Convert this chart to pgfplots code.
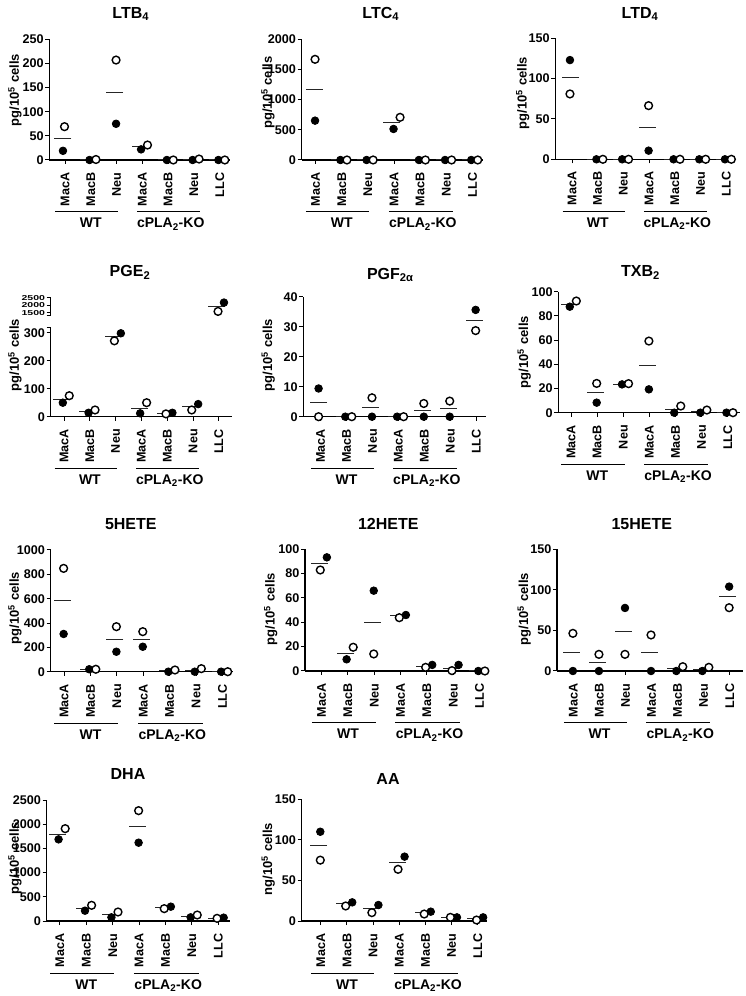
\documentclass[border=0pt]{standalone}
\usepackage{fontspec}
\setmainfont{Liberation Sans}
\usepackage{pgfplots}
\pgfplotsset{compat=1.18}
\newcommand{\tickfont}{\bfseries\fontsize{12.6}{12.6}\selectfont}
\newcommand{\titlefont}{\bfseries\fontsize{16}{16}\selectfont}
\newcommand{\grpfont}{\bfseries\fontsize{14}{14}\selectfont}
\newcommand{\labfont}{\bfseries\fontsize{13}{13}\selectfont}
\pgfplotsset{
 panel/.style={
  scale only axis, axis lines*=left, clip=false, anchor=south west,
  axis line style={line width=1.1pt},
  xtick={0,...,6}, xticklabels={MacA,MacB,Neu,MacA,MacB,Neu,LLC},
  xticklabel style={rotate=90, anchor=east, font=\tickfont},
  xticklabel shift=5pt,
  yticklabel style={font=\tickfont, inner xsep=1.5pt},
  tick style={black, line width=1pt},
  tick align=outside, major tick length=4pt,
  /pgf/number format/assume math mode=true,
  /pgf/number format/1000 sep={},
  scaled y ticks=false, ymin=0,
 },
 filled/.style={only marks, mark=*, mark size=3.8pt, mark options={fill=black, draw=black, line width=0.8pt}},
 open/.style={only marks, mark=*, mark size=3.9pt, mark options={fill=white, draw=black, line width=1.4pt}},
 mean/.style={only marks, mark=-, mark size=8.5pt, mark options={line width=1pt, draw=black!85}},
}
\newcommand{\groups}{%
 \draw[line width=1pt] ([yshift=-52pt]axis cs:-0.37,0) -- ([yshift=-52pt]axis cs:2.05,0);
 \draw[line width=1pt] ([yshift=-52pt]axis cs:2.8,0) -- ([yshift=-52pt]axis cs:5.25,0);
 \node[anchor=base, font=\grpfont] at ([yshift=-68pt]axis cs:1.0,0) {WT};
 \node[anchor=base, font=\grpfont] at ([yshift=-68pt]axis cs:4.1,0) {cPLA\textsubscript{2}-KO};
}
\begin{document}
\begin{tikzpicture}
\path[use as bounding box] (0pt,0pt) rectangle (746pt,996pt);

% ---------- Row 1 ----------
% LTB4
\begin{axis}[panel, at={(49.3pt,836pt)}, width=180.7pt, height=120.7pt,
  xmin=-0.61, xmax=6.4, ymax=250, ytick={0,50,...,250}]
\addplot[mean] coordinates {(-0.08,45) (0.92,0.5) (1.92,140) (2.92,27) (3.92,0) (4.92,1) (5.92,0)};
\addplot[filled] coordinates {(-0.08,19) (0.95,0) (1.98,75) (2.95,22) (3.95,0) (4.95,0) (5.95,0)};
\addplot[open] coordinates {(-0.02,69) (1.2,1) (1.98,207) (3.2,31) (4.2,0) (5.2,2) (6.2,0)};
\groups
\end{axis}
\node[anchor=base, font=\titlefont] at (130.8pt,977.7pt) {LTB\textsubscript{4}};
\node[rotate=90, font=\labfont] at (15pt,906pt) {pg/10\textsuperscript{5} cells};

% LTC4
\begin{axis}[panel, at={(301.7pt,836pt)}, width=181.3pt, height=120.7pt,
  xmin=-0.53, xmax=6.4, ymax=2000, ytick={0,500,...,2000}]
\addplot[mean] coordinates {(-0.05,1171) (0.92,0) (1.92,0) (2.92,619) (3.92,0) (4.92,0) (5.92,0)};
\addplot[filled] coordinates {(-0.02,652) (0.95,0) (1.95,0) (2.98,514) (3.95,0) (4.95,0) (5.95,0)};
\addplot[open] coordinates {(-0.02,1668) (1.2,0) (2.2,0) (3.23,707) (4.2,0) (5.2,0) (6.2,0)};
\groups
\end{axis}
\node[anchor=base, font=\titlefont] at (380.8pt,977.7pt) {LTC\textsubscript{4}};
\node[rotate=90, font=\labfont] at (268pt,903.5pt) {pg/10\textsuperscript{5} cells};

% LTD4
\begin{axis}[panel, at={(555.3pt,836.7pt)}, width=180.7pt, height=121pt,
  xmin=-0.65, xmax=6.38, ymax=150, ytick={0,50,100,150}]
\addplot[mean] coordinates {(-0.05,101.7) (0.92,0) (1.92,0) (2.92,39.7) (3.92,0) (4.92,0) (5.92,0)};
\addplot[filled] coordinates {(-0.08,123) (0.95,0) (1.95,0) (2.98,10.7) (3.95,0) (4.95,0) (5.95,0)};
\addplot[open] coordinates {(-0.08,81) (1.2,0) (2.2,0) (2.98,66.5) (4.2,0) (5.2,0) (6.2,0)};
\groups
\end{axis}
\node[anchor=base, font=\titlefont] at (640pt,977.7pt) {LTD\textsubscript{4}};
\node[rotate=90, font=\labfont] at (522.7pt,903pt) {pg/10\textsuperscript{5} cells};

% ---------- Row 2 ----------
% PGE2 lower
\begin{axis}[panel, at={(50.7pt,579.3pt)}, width=181pt, height=89pt,
  xmin=-0.52, xmax=6.5, ymax=318, ytick={0,100,200,300},
  extra y ticks={318}, extra y tick labels={}]
\addplot[mean] coordinates {(-0.1,63) (0.92,20) (1.92,286) (2.92,30) (3.92,11) (4.92,36)};
\addplot[filled] coordinates {(-0.05,50) (0.95,14) (2.2,298) (2.95,12) (4.2,14) (5.2,45)};
\addplot[open] coordinates {(0.2,75) (1.2,24) (1.95,271) (3.2,50) (3.95,10) (4.95,24)};
\groups
\end{axis}
% PGE2 upper
\begin{axis}[panel, at={(50.7pt,680pt)}, width=181pt, height=18.3pt,
  axis x line=none, axis y line*=left,
  xmin=-0.52, xmax=6.5, ymin=1300, ymax=2500, ytick={1500,2000,2500},
  extra y ticks={1300}, extra y tick labels={},
  yticklabel style={font=\bfseries\fontsize{10.5}{10.5}\selectfont, yscale=0.68, inner ysep=0pt}]
\addplot[mean] coordinates {(5.92,1890)};
\addplot[filled] coordinates {(6.2,2180)};
\addplot[open] coordinates {(5.97,1600)};
\end{axis}
\node[anchor=base, font=\titlefont] at (130pt,719.3pt) {PGE\textsubscript{2}};
\node[rotate=90, font=\labfont] at (15pt,641pt) {pg/10\textsuperscript{5} cells};

% PGF2a
\begin{axis}[panel, at={(303.3pt,579.3pt)}, width=182.7pt, height=120pt,
  xmin=-0.67, xmax=6.38, ymax=40, ytick={0,10,...,40}]
\addplot[mean] coordinates {(-0.08,4.7) (0.92,0) (1.92,3.1) (2.92,0) (3.92,2.2) (4.92,2.6) (5.92,32)};
\addplot[filled] coordinates {(-0.08,9.4) (0.95,0) (1.98,0) (2.95,0) (3.98,0) (4.98,0) (5.98,35.6)};
\addplot[open] coordinates {(-0.08,0) (1.2,0) (1.98,6.3) (3.2,0) (3.98,4.4) (4.98,5.2) (5.98,28.7)};
\groups
\end{axis}
\node[anchor=base, font=\titlefont] at (390.3pt,716.7pt) {PGF\textsubscript{2α}};
\node[rotate=90, font=\labfont] at (268.3pt,641pt) {pg/10\textsuperscript{5} cells};

% TXB2
\begin{axis}[panel, at={(558.3pt,583.3pt)}, width=181.2pt, height=121pt,
  xmin=-0.49, xmax=6.45, ymax=100, ytick={0,20,...,100}]
\addplot[mean] coordinates {(-0.08,89.8) (0.92,16.5) (1.92,23.7) (2.92,39.1) (3.92,2.8) (4.92,0.8) (5.92,0)};
\addplot[filled] coordinates {(-0.05,87.6) (0.98,8.3) (1.95,23.4) (2.98,19.3) (3.95,0) (4.95,0) (5.95,0)};
\addplot[open] coordinates {(0.2,92.3) (0.98,24.2) (2.2,24) (2.98,59.2) (4.2,5.5) (5.2,2.2) (6.2,0)};
\groups
\end{axis}
\node[anchor=base, font=\titlefont] at (640.5pt,719.3pt) {TXB\textsubscript{2}};
\node[rotate=90, font=\labfont] at (524.3pt,644pt) {pg/10\textsuperscript{5} cells};

% ---------- Row 3 ----------
% 5HETE
\begin{axis}[panel, at={(50.7pt,324.3pt)}, width=182.3pt, height=121.7pt,
  xmin=-0.51, xmax=6.4, ymax=1000, ytick={0,200,...,1000}]
\addplot[mean] coordinates {(-0.08,581) (0.92,20) (1.92,266) (2.92,268) (3.92,7) (4.92,12) (5.92,0)};
\addplot[filled] coordinates {(-0.02,310) (0.95,20) (1.98,164) (2.98,205) (3.95,0) (4.95,0) (5.95,0)};
\addplot[open] coordinates {(-0.02,849) (1.2,20) (1.98,370) (2.98,329) (4.2,14) (5.2,25) (6.2,0)};
\groups
\end{axis}
\node[anchor=base, font=\titlefont] at (130.8pt,466.7pt) {5HETE};
\node[rotate=90, font=\labfont] at (15pt,388pt) {pg/10\textsuperscript{5} cells};

% 12HETE
\begin{axis}[panel, at={(305pt,325pt)}, width=182pt, height=121.7pt,
  xmin=-0.63, xmax=6.28, ymax=100, ytick={0,20,...,100}]
\addplot[mean] coordinates {(-0.08,88) (0.92,14.5) (1.92,40) (2.92,45.2) (3.92,3.6) (4.92,2.2) (5.92,0)};
\addplot[filled] coordinates {(0.2,93.4) (0.95,9.6) (1.98,66) (3.2,46) (4.2,5) (5.2,5) (5.95,0)};
\addplot[open] coordinates {(-0.05,83) (1.2,19.5) (1.98,14) (2.95,43.8) (3.95,3) (4.95,0.3) (6.2,0)};
\groups
\end{axis}
\node[anchor=base, font=\titlefont] at (388.3pt,466.7pt) {12HETE};
\node[rotate=90, font=\labfont] at (270.7pt,387pt) {pg/10\textsuperscript{5} cells};

% 15HETE
\begin{axis}[panel, at={(557pt,325pt)}, width=185.7pt, height=121.7pt,
  xmin=-0.63, xmax=6.5, ymax=150, ytick={0,50,100,150}]
\addplot[mean] coordinates {(-0.08,22.6) (0.92,10.3) (1.92,48.5) (2.92,22.2) (3.92,2.5) (4.92,2.4) (5.92,91.7)};
\addplot[filled] coordinates {(-0.02,0) (0.98,0) (1.98,77.7) (2.98,0) (3.95,0) (4.95,0) (5.98,104)};
\addplot[open] coordinates {(-0.02,46.4) (0.98,20.5) (1.98,20.5) (2.98,44.4) (4.2,5.3) (5.2,4.5) (5.98,78)};
\groups
\end{axis}
\node[anchor=base, font=\titlefont] at (641.8pt,466pt) {15HETE};
\node[rotate=90, font=\labfont] at (524.3pt,387pt) {pg/10\textsuperscript{5} cells};

% ---------- Row 4 ----------
% DHA
\begin{axis}[panel, at={(46.7pt,75pt)}, width=183.3pt, height=121pt,
  xmin=-0.5, xmax=6.44, ymax=2500, ytick={0,500,...,2500}]
\addplot[mean] coordinates {(-0.08,1797) (0.92,262) (1.92,138) (2.92,1949) (3.92,275) (4.92,103) (5.92,62)};
\addplot[filled] coordinates {(-0.05,1687) (0.95,213) (1.95,76) (2.98,1618) (4.2,296) (4.95,76) (6.2,69)};
\addplot[open] coordinates {(0.2,1908) (1.2,324) (2.2,186) (2.98,2280) (3.95,255) (5.2,124) (5.95,55)};
\groups
\end{axis}
\node[anchor=base, font=\titlefont] at (128pt,216pt) {DHA};
\node[rotate=90, font=\labfont] at (15pt,138pt) {pg/10\textsuperscript{5} cells};

% AA
\begin{axis}[panel, at={(301.7pt,75pt)}, width=185.6pt, height=121.7pt,
  xmin=-0.73, xmax=6.36, ymax=150, ytick={0,50,100,150}]
\addplot[mean] coordinates {(-0.08,92.5) (0.92,21) (1.92,14.8) (2.92,72.3) (3.92,10.3) (4.92,4.5) (5.92,2.5)};
\addplot[filled] coordinates {(-0.02,110) (1.2,23) (2.2,19.7) (3.2,79.3) (4.2,11.5) (5.2,4.5) (6.2,4.5)};
\addplot[open] coordinates {(-0.02,75) (0.95,18.5) (1.95,10.3) (2.95,63.7) (3.95,8.6) (4.95,4.5) (5.95,1.2)};
\groups
\end{axis}
\node[anchor=base, font=\titlefont] at (388pt,211pt) {AA};
\node[rotate=90, font=\labfont] at (268.3pt,137pt) {ng/10\textsuperscript{5} cells};
\end{tikzpicture}
\end{document}
